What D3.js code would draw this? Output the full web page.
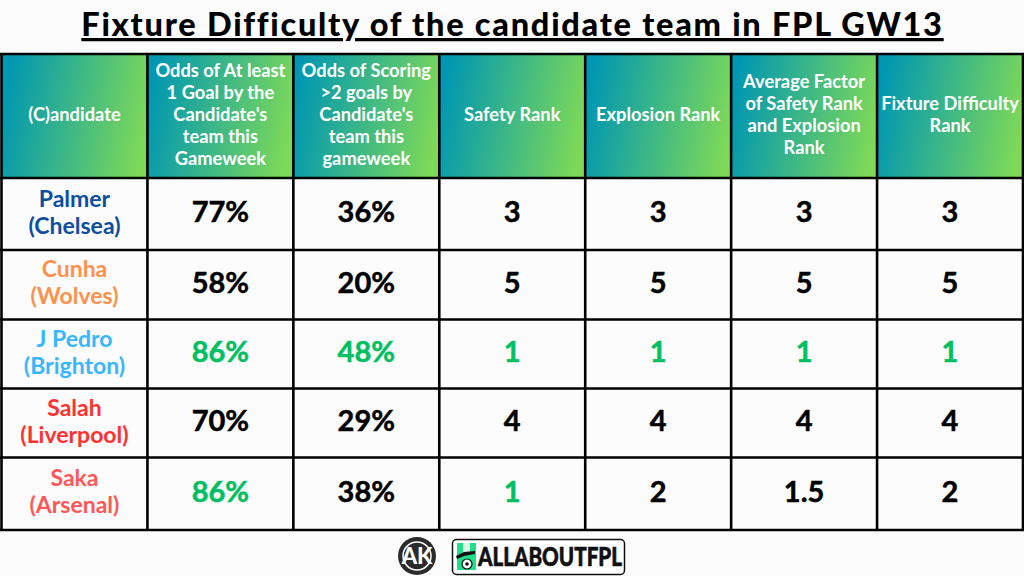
<!DOCTYPE html>
<html>
<head>
<meta charset="utf-8">
<script src="https://cdn.jsdelivr.net/npm/d3@7"></script>
<style>
    html, body { margin: 0; padding: 0; background: #fcfcfc; }
    svg { display: block; }
    text { font-family: "Lato", "Open Sans", sans-serif; text-anchor: middle; }
</style>
</head>
<body>
<script>
const chartTitle = "Fixture Difficulty of the candidate team in FPL GW13"

const headers = [
    ["(C)andidate"],
    ["Odds of At least", "1 Goal by the", "Candidate's", "team this", "Gameweek"],
    ["Odds of Scoring", ">2 goals by", "Candidate's", "team this", "gameweek"],
    ["Safety Rank"],
    ["Explosion Rank"],
    ["Average Factor", "of Safety Rank", "and Explosion", "Rank"],
    ["Fixture Difficulty", "Rank"]
]

const candidates = ["Palmer", "Cunha", "J Pedro", "Salah", "Saka"]
const teams = ["Chelsea", "Wolves", "Brighton", "Liverpool", "Arsenal"]
const teamColors = ["#0b4ea2", "#ff914d", "#38b6ff", "#ff3131", "#ff5757"]

const oddsOneGoal = [77, 58, 86, 70, 86]
const oddsTwoGoals = [36, 20, 48, 29, 38]
const safetyRank = [3, 5, 1, 4, 1]
const explosionRank = [3, 5, 1, 4, 2]
const averageFactor = [3, 5, 1, 4, 1.5]
const fixtureRank = [3, 5, 1, 4, 2]

const width = 1024
const height = 576
const bestColor = "#00bf63"

const svg = d3.select("body").append("svg")
    .attr("width", width)
    .attr("height", height)

const defs = svg.append("defs")
const grad = defs.append("linearGradient")
    .attr("id", "headerFill")
    .attr("x1", "0%").attr("y1", "42%")
    .attr("x2", "100%").attr("y2", "58%")
grad.append("stop").attr("offset", "0%").attr("stop-color", "#0097b2")
grad.append("stop").attr("offset", "100%").attr("stop-color", "#7ed957")

svg.append("rect")
    .attr("width", width)
    .attr("height", height)
    .attr("fill", "#fcfcfc")

// title
svg.append("text")
    .attr("x", 512.5)
    .attr("y", 36)
    .attr("font-size", 32.5)
    .attr("font-weight", 900)
    .attr("letter-spacing", "1.73px")
    .attr("text-decoration", "underline")
    .attr("fill", "#000")
    .text(chartTitle)

// columns are even, the rows in the picture are not quite
const x = d3.scaleBand()
    .domain(d3.range(headers.length))
    .range([1.5, 1023])

const rowEdges = [178, 250, 319.5, 388.5, 457.5, 530]
const rowMid = (d, i) => (rowEdges[i] + rowEdges[i + 1]) / 2

// header cells
const headerCells = svg.append("g")
    .selectAll("g")
    .data(headers)
    .join("g")
    .attr("transform", (d, i) => `translate(${x(i)},54)`)

headerCells.append("rect")
    .attr("width", x.bandwidth())
    .attr("height", 124)
    .attr("fill", "url(#headerFill)")

headerCells.selectAll("text")
    .data(d => d.map((line, i) => ({ line, i, n: d.length })))
    .join("text")
    .attr("x", x.bandwidth() / 2)
    .attr("y", d => 66.5 + (d.i - (d.n - 1) / 2) * 22)
    .attr("font-size", 18.3)
    .attr("font-weight", 700)
    .attr("fill", "#fff")
    .text(d => d.line)

// candidate column
const nameCells = svg.append("g")
    .selectAll("g")
    .data(candidates)
    .join("g")
    .attr("transform", (d, i) => `translate(${x(0) + x.bandwidth() / 2},${rowMid(d, i)})`)
    .attr("fill", (d, i) => teamColors[i])
    .attr("font-size", 23)
    .attr("font-weight", 700)

nameCells.append("text")
    .attr("y", -7.5)
    .text(d => d)

nameCells.append("text")
    .attr("y", 19.5)
    .text((d, i) => `(${teams[i]})`)

// value columns, best value of each one goes green
const valueColumns = [
    { values: oddsOneGoal, best: d3.max(oddsOneGoal), fmt: d => `${d}%` },
    { values: oddsTwoGoals, best: d3.max(oddsTwoGoals), fmt: d => `${d}%` },
    { values: safetyRank, best: d3.min(safetyRank), fmt: d => d },
    { values: explosionRank, best: d3.min(explosionRank), fmt: d => d },
    { values: averageFactor, best: d3.min(averageFactor), fmt: d => d },
    { values: fixtureRank, best: d3.min(fixtureRank), fmt: d => d }
]

valueColumns.forEach((col, c) => {
    svg.append("g")
        .selectAll("text")
        .data(col.values)
        .join("text")
        .attr("x", x(c + 1) + x.bandwidth() / 2)
        .attr("y", (d, i) => rowMid(d, i) + 7.8)
        .attr("font-size", 29)
        .attr("font-weight", 700)
        .attr("fill", d => d === col.best ? bestColor : "#000")
        .attr("stroke", d => d === col.best ? bestColor : "#000")
        .attr("stroke-width", 0.5)
        .text(d => col.fmt(d))
})

// grid
const grid = svg.append("g")
    .attr("stroke", "#000")
    .attr("stroke-width", 2.6)

grid.selectAll(".v")
    .data(d3.range(headers.length + 1))
    .join("line")
    .attr("class", "v")
    .attr("x1", i => i < headers.length ? x(i) : 1023)
    .attr("x2", i => i < headers.length ? x(i) : 1023)
    .attr("y1", 53)
    .attr("y2", 531)

grid.selectAll(".h")
    .data([54].concat(rowEdges))
    .join("line")
    .attr("class", "h")
    .attr("x1", 0)
    .attr("x2", width)
    .attr("y1", d => d)
    .attr("y2", d => d)

// AK badge
const badge = svg.append("g").attr("transform", "translate(417,556)")
badge.append("circle").attr("r", 19).attr("fill", "#2b2b2b")
badge.append("circle").attr("r", 14).attr("fill", "none").attr("stroke", "#fff").attr("stroke-width", 1.5)
badge.append("text")
    .attr("y", 8)
    .attr("font-size", 22)
    .attr("font-weight", 900)
    .attr("fill", "#fff")
    .text("AK")

// ALLABOUTFPL logo
const logo = svg.append("g").attr("transform", "translate(452,539)")
logo.append("rect")
    .attr("x", 0.5).attr("y", 0.5)
    .attr("width", 172).attr("height", 35)
    .attr("rx", 4)
    .attr("fill", "#fff")
    .attr("stroke", "#111")
    .attr("stroke-width", 1.5)
logo.append("rect")
    .attr("x", 5).attr("y", 4)
    .attr("width", 19).attr("height", 27)
    .attr("fill", "#1fe08a")
logo.append("rect")
    .attr("x", 11).attr("y", 4)
    .attr("width", 7).attr("height", 10)
    .attr("fill", "#dff5e6")
logo.append("path")
    .attr("d", "M4,17 L12,13 L23,12 L23,15 L12,17 L5,20 Z")
    .attr("fill", "#111")
logo.append("circle")
    .attr("cx", 15).attr("cy", 25).attr("r", 5)
    .attr("fill", "#fff")
    .attr("stroke", "#111")
    .attr("stroke-width", 1.2)
logo.append("circle")
    .attr("cx", 15).attr("cy", 25).attr("r", 1.8)
    .attr("fill", "#111")
logo.append("text")
    .attr("x", 98)
    .attr("y", 27)
    .attr("font-size", 26)
    .attr("font-weight", 900)
    .attr("fill", "#111")
    .attr("stroke", "#111")
    .attr("stroke-width", 0.6)
    .attr("textLength", 144)
    .attr("lengthAdjust", "spacingAndGlyphs")
    .text("ALLABOUTFPL")
</script>
</body>
</html>
